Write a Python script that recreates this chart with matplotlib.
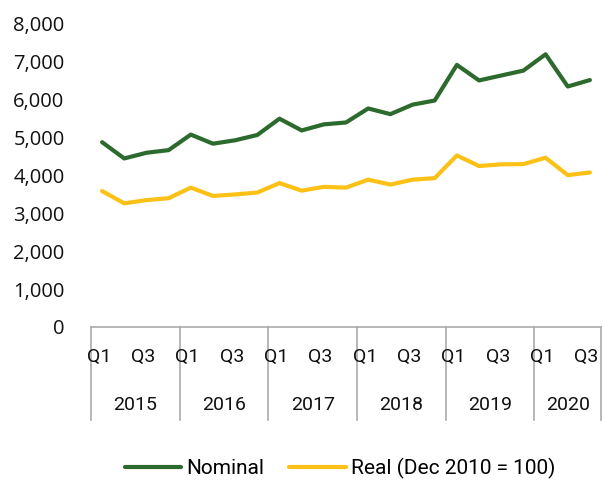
import matplotlib.pyplot as plt
import matplotlib.transforms as mtransforms

years = ["2015", "2016", "2017", "2018", "2019", "2020"]
quarters_per_year = [4, 4, 4, 4, 4, 3]
quarter_labels = ["Q1", "", "Q3", ""]

nominal = [4880, 4450, 4600, 4670, 5080, 4840, 4930, 5070, 5500, 5190, 5350, 5400,
           5770, 5620, 5870, 5980, 6920, 6510, 6640, 6770, 7200, 6350, 6520]
real = [3590, 3265, 3350, 3400, 3680, 3460, 3500, 3550, 3800, 3600, 3700, 3680,
        3890, 3760, 3890, 3930, 4530, 4250, 4295, 4300, 4470, 4010, 4080]

green = "#2d6a2e"
yellow = "#fcc116"

fig = plt.figure(figsize=(6.04, 4.82), dpi=100)
ax = fig.add_axes([91 / 604, 1 - 327 / 482, 510 / 604, 303 / 482])

x = list(range(len(nominal)))
ax.plot(x, nominal, color=green, lw=3, label="Nominal", solid_capstyle="round")
ax.plot(x, real, color=yellow, lw=3, label="Real (Dec 2010 = 100)", solid_capstyle="round")

ax.set_xlim(-0.5, len(nominal) - 0.5)
ax.set_ylim(0, 8000)
ax.set_yticks(range(0, 8001, 1000))
ax.set_yticklabels([f"{v:,}" for v in range(0, 8001, 1000)], fontsize=14.5, family="Open Sans", color="#111111")
ax.tick_params(axis="y", length=0, pad=19)
ax.set_xticks([])

for s in ["left", "right", "top"]:
    ax.spines[s].set_visible(False)
ax.spines["bottom"].set_color("#aaaaaa")
ax.spines["bottom"].set_linewidth(1.2)

trans = mtransforms.blended_transform_factory(ax.transData, ax.transAxes)
sep_depth = -93 / 303
i = 0
bounds = [-0.5]
for year, n in zip(years, quarters_per_year):
    for q in range(n):
        lab = quarter_labels[q]
        if lab:
            ax.text(i + q - 0.15, -30 / 303, lab, transform=trans, ha="center", va="center",
                    fontsize=14, family="Roboto", color="#111111")
    ax.text(i + (n - 1) / 2, -78 / 303, year, transform=trans, ha="center", va="center",
            fontsize=14, family="Roboto", color="#111111")
    i += n
    bounds.append(i - 0.5)

for b in bounds:
    ax.plot([b, b], [0, sep_depth], transform=trans, color="#aaaaaa", lw=1.2, clip_on=False)

leg = fig.legend(loc="center", bbox_to_anchor=(340 / 604, 1 - 468 / 482), ncol=2, frameon=False,
                 prop={"family": "Roboto", "size": 15}, handlelength=2.7, handletextpad=0.25,
                 columnspacing=1.2)

fig.savefig("out.png", dpi=100)
